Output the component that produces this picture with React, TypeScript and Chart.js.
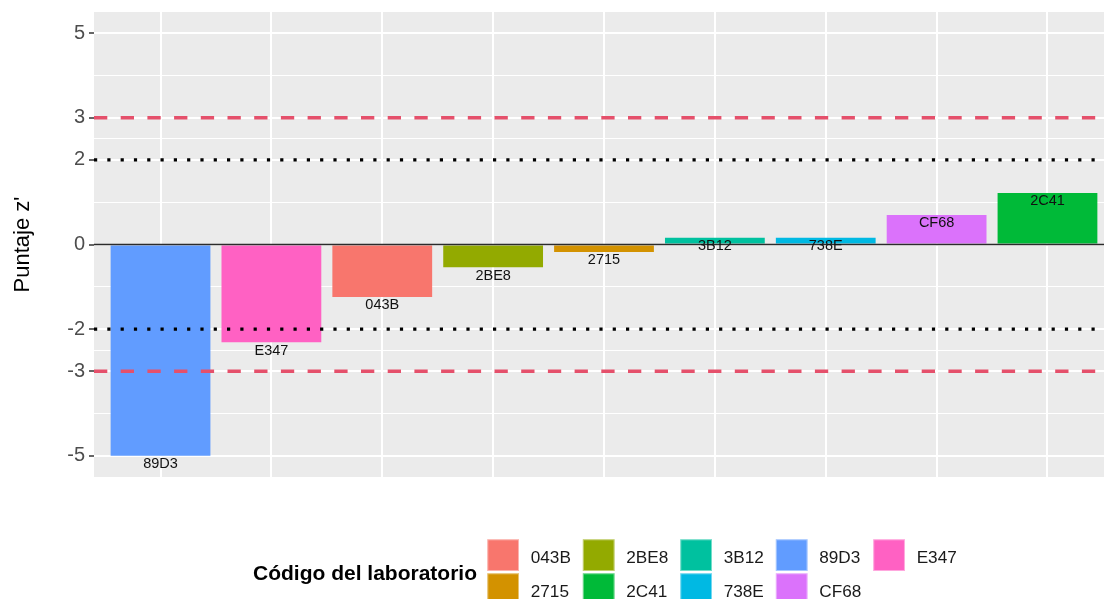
import React, { useEffect, useRef } from "react";
import { Chart, registerables } from "chart.js";

Chart.register(...registerables);

// ---- data ----
const labs = ["89D3", "E347", "043B", "2BE8", "2715", "3B12", "738E", "CF68", "2C41"];
const zScores = [-5.0, -2.31, -1.24, -0.54, -0.18, 0.16, 0.16, 0.7, 1.22];
const barColors = ["#619CFF", "#FF61C3", "#F8766D", "#93AA00", "#D39200", "#00C19F", "#00B9E3", "#DB72FB", "#00BA38"];
const legendOrder = ["043B", "2715", "2BE8", "2C41", "3B12", "738E", "89D3", "CF68", "E347"];
const yMajorTicks = [-5, -3, -2, 0, 2, 3, 5];
const yMinorTicks = [-4, -2.5, -1, 1, 2.5, 4];
const dashedLimits = [3, -3];
const dottedLimits = [2, -2];
const yTitle = "Puntaje z'";
const legendTitle = "Código del laboratorio";

const FAM = '"Liberation Sans", Arial, Helvetica, sans-serif';

const bgPlugin = {
  id: "panelBg",
  beforeDraw(chart: any) {
    const { ctx, chartArea: a } = chart;
    ctx.save();
    ctx.fillStyle = "#EBEBEB";
    ctx.fillRect(a.left, a.top, a.right - a.left, a.bottom - a.top);
    ctx.restore();
  },
};

const overlayPlugin = {
  id: "overlay",
  afterDatasetsDraw(chart: any) {
    const { ctx, chartArea: a, scales } = chart;
    const y = scales.y;
    const x = scales.x;
    ctx.save();
    ctx.beginPath();
    ctx.rect(a.left, a.top, a.right - a.left, a.bottom - a.top);
    ctx.clip();
    // zero line
    const y0 = y.getPixelForValue(0);
    ctx.strokeStyle = "#2b2b2b";
    ctx.lineWidth = 1.6;
    ctx.setLineDash([]);
    ctx.beginPath();
    ctx.moveTo(a.left, y0);
    ctx.lineTo(a.right, y0);
    ctx.stroke();
    // dashed limits
    ctx.strokeStyle = "#E5506B";
    ctx.lineWidth = 3.4;
    ctx.setLineDash([13.3, 13.4]);
    dashedLimits.forEach((v) => {
      const py = y.getPixelForValue(v);
      ctx.beginPath();
      ctx.moveTo(a.left, py);
      ctx.lineTo(a.right, py);
      ctx.stroke();
    });
    // dotted limits
    ctx.strokeStyle = "#000000";
    ctx.lineWidth = 3.2;
    ctx.setLineDash([3.2, 10.1]);
    dottedLimits.forEach((v) => {
      const py = y.getPixelForValue(v);
      ctx.beginPath();
      ctx.moveTo(a.left, py);
      ctx.lineTo(a.right, py);
      ctx.stroke();
    });
    ctx.setLineDash([]);
    // bar labels
    const fs = 14.5;
    ctx.font = `${fs}px ${FAM}`;
    ctx.fillStyle = "#111111";
    ctx.textAlign = "center";
    ctx.textBaseline = "alphabetic";
    labs.forEach((lab, i) => {
      const px = x.getPixelForValue(i);
      const py = y.getPixelForValue(zScores[i]);
      ctx.fillText(lab, px, py + 0.716 * fs + 2);
    });
    ctx.restore();
  },
};

const legendPlugin = {
  id: "customLegend",
  afterDraw(chart: any) {
    const { ctx } = chart;
    ctx.save();
    ctx.font = `bold 21px ${FAM}`;
    ctx.fillStyle = "#000000";
    ctx.textAlign = "left";
    ctx.textBaseline = "alphabetic";
    ctx.fillText(legendTitle, 253, 580);

    ctx.font = `17.2px ${FAM}`;
    const keySize = 31.7;
    const rowGap = 34;
    const textOff = 43.4;
    let kx = 487.3;
    const cols = Math.ceil(legendOrder.length / 2);
    for (let c = 0; c < cols; c++) {
      const items = legendOrder.slice(c * 2, c * 2 + 2);
      let w = 0;
      items.forEach((lab) => {
        w = Math.max(w, ctx.measureText(lab).width);
      });
      items.forEach((lab, r) => {
        const ky = 539.3 + r * rowGap;
        const col = barColors[labs.indexOf(lab)];
        ctx.fillStyle = col;
        ctx.fillRect(kx, ky, keySize, keySize);
        ctx.strokeStyle = "rgba(255,255,255,0.45)";
        ctx.lineWidth = 1;
        ctx.strokeRect(kx + 0.5, ky + 0.5, keySize - 1, keySize - 1);
        ctx.fillStyle = "#1a1a1a";
        ctx.fillText(lab, kx + textOff, ky + 23.8);
      });
      kx += textOff + w + 12;
    }
    ctx.restore();
  },
};

export default function App() {
  const ref = useRef<HTMLCanvasElement>(null);
  useEffect(() => {
    if (!ref.current) return;
    const allY = [...yMajorTicks, ...yMinorTicks].sort((p, q) => p - q);
    const isMajor = (v: number) => yMajorTicks.includes(v);
    const chart = new Chart(ref.current, {
      type: "bar",
      data: {
        datasets: [
          {
            data: labs.map((_, i) => ({ x: i, y: zScores[i] })),
            backgroundColor: barColors,
            borderWidth: 0,
            barPercentage: 0.9,
            categoryPercentage: 1,
          },
        ],
      },
      options: {
        animation: false,
        responsive: false,
        devicePixelRatio: 1,
        layout: { padding: { left: 0, right: 0, top: 12, bottom: 122 } },
        plugins: { legend: { display: false }, tooltip: { enabled: false } },
        scales: {
          x: {
            type: "linear",
            min: -0.6,
            max: labs.length - 1 + 0.6,
            offset: false,
            afterBuildTicks: (s: any) => {
              s.ticks = labs.map((_, i) => ({ value: i }));
            },
            afterFit: (s: any) => {
              s.height = 0;
            },
            ticks: { display: false, autoSkip: false },
            grid: { color: "#FFFFFF", lineWidth: 2, drawTicks: false, offset: false },
            border: { display: false },
          },
          y: {
            type: "linear",
            min: -5.5,
            max: 5.5,
            afterBuildTicks: (s: any) => {
              s.ticks = allY.map((v) => ({ value: v }));
            },
            afterFit: (s: any) => {
              s.width = 94;
            },
            ticks: {
              autoSkip: false,
              padding: 4,
              color: "#4D4D4D",
              font: { size: 20, family: FAM, lineHeight: 0.6 },
              callback: (v: any) => (isMajor(Number(v)) ? String(v) : ""),
            },
            grid: {
              color: "#FFFFFF",
              lineWidth: (c: any) => (c.tick && isMajor(c.tick.value) ? 2 : 1),
              tickLength: 5,
              tickWidth: 1.5,
              tickColor: (c: any) => (c.tick && isMajor(c.tick.value) ? "#333333" : "rgba(0,0,0,0)"),
            },
            border: { display: false },
            title: {
              display: true,
              text: yTitle,
              color: "#000000",
              font: { size: 22, family: FAM },
              padding: { top: 10, bottom: 0 },
            },
          },
        },
      },
      plugins: [bgPlugin, overlayPlugin, legendPlugin],
    } as any);
    return () => chart.destroy();
  }, []);

  return (
    <div style={{ position: "fixed", left: 0, top: 0, width: 1104, height: 599, overflow: "hidden", background: "#fff" }}>
      <canvas ref={ref} width={1114} height={599} style={{ width: 1114, height: 599, display: "block" }} />
    </div>
  );
}
